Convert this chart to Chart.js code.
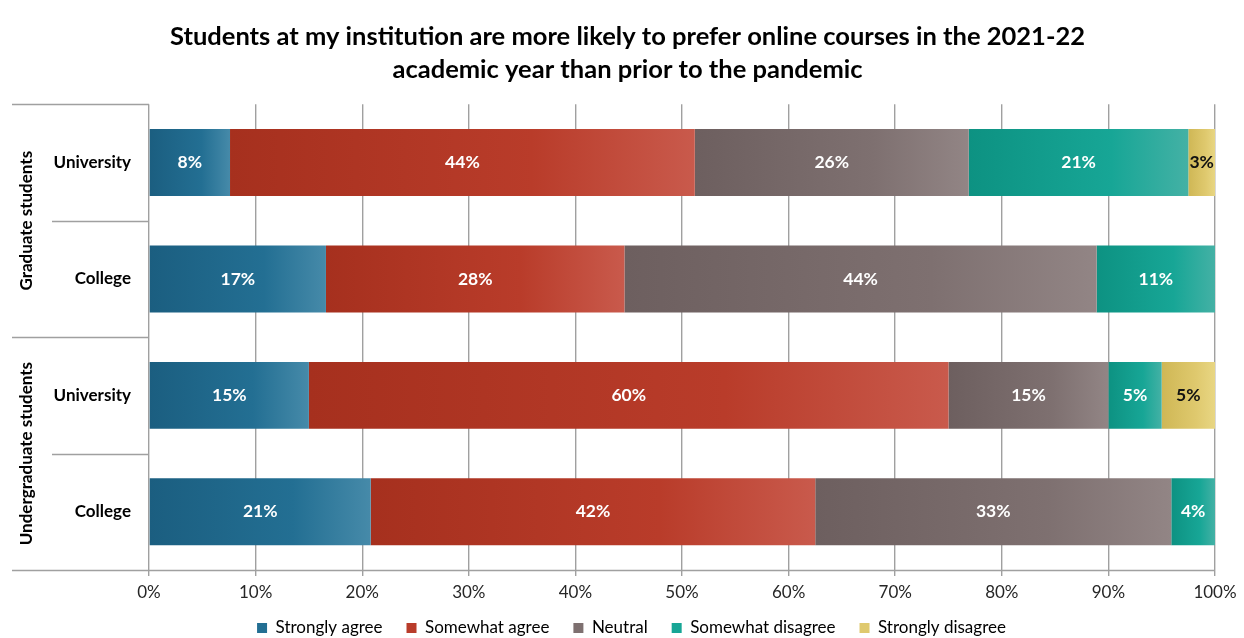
<!DOCTYPE html>
<html>
<head>
<meta charset="utf-8">
<script src="https://cdn.jsdelivr.net/npm/chart.js@4"></script>
<style>
  body { margin: 0; background: #fff; }
</style>
</head>
<body>
<canvas id="chart" width="1244" height="638"></canvas>
<script>
// rows, top to bottom
const rowLabels = ['University', 'College', 'University', 'College'];
const groupLabels = ['Graduate students', 'Undergraduate students'];
const seriesNames = ['Strongly agree', 'Somewhat agree', 'Neutral', 'Somewhat disagree', 'Strongly disagree'];

const stronglyAgree    = [7.6, 16.6, 15.0, 20.8];
const somewhatAgree    = [43.6, 28.0, 60.0, 41.7];
const neutral          = [25.7, 44.3, 15.0, 33.4];
const somewhatDisagree = [20.6, 11.1, 5.0, 4.1];
const stronglyDisagree = [2.5, 0, 5.0, 0];

const xTicks = [0, 10, 20, 30, 40, 50, 60, 70, 80, 90, 100];

// [dark, mid, light] for each series
const palette = [
  ['#1b5e80', '#236f93', '#468aa9'],
  ['#a6301e', '#b93c2a', '#c95a4c'],
  ['#6d5f5f', '#7e7070', '#928585'],
  ['#0d9282', '#17a696', '#44b1a5'],
  ['#cfb755', '#dfc96e', '#e8d683']
];

function segmentFill(ctx) {
  const cols = palette[ctx.datasetIndex];
  const chart = ctx.chart;
  if (ctx.type !== 'data' || !chart.chartArea || !chart.scales.x) return cols[1];
  let start = 0;
  for (let i = 0; i < ctx.datasetIndex; i++) {
    start += chart.data.datasets[i].data[ctx.dataIndex];
  }
  const end = start + chart.data.datasets[ctx.datasetIndex].data[ctx.dataIndex];
  const x0 = chart.scales.x.getPixelForValue(start);
  const x1 = chart.scales.x.getPixelForValue(end);
  if (!(x1 > x0)) return cols[1];
  const g = chart.ctx.createLinearGradient(x0, 0, x1, 0);
  g.addColorStop(0, cols[0]);
  g.addColorStop(0.65, cols[1]);
  g.addColorStop(1, cols[2]);
  return g;
}

const allSeries = [stronglyAgree, somewhatAgree, neutral, somewhatDisagree, stronglyDisagree];

const datasets = allSeries.map((vals, i) => ({
  label: seriesNames[i],
  data: vals,
  backgroundColor: segmentFill,
  borderWidth: 0,
  barPercentage: 0.575,
  categoryPercentage: 1
}));

const lineColor = '#a0a0a0';

// title and legend are centred on the whole picture, not on the plot;
// legend sits close under the axis labels
const shiftPlugin = {
  id: 'shift',
  afterLayout(chart) {
    if (chart.titleBlock) { chart.titleBlock.left += 20; chart.titleBlock.right += 20; }
    if (chart.legend) {
      const lg = chart.legend;
      lg.left += 24; lg.right += 24;
      const h = lg.height;
      lg.top = 595.5; lg.bottom = lg.top + h;
    }
  }
};

// y-axis group lines and rotated group labels
const groupPlugin = {
  id: 'groups',
  afterDraw(chart) {
    const c = chart.ctx;
    const area = chart.chartArea;
    const step = (area.bottom - area.top) / rowLabels.length;
    c.save();
    c.strokeStyle = lineColor;
    c.lineWidth = 1.4;
    for (let i = 0; i <= rowLabels.length; i++) {
      const y = Math.round(area.top + i * step) + 0.5;
      const x0 = (i % 2 === 0) ? 12 : 52;
      const x1 = (i === rowLabels.length) ? area.right : area.left;
      c.beginPath();
      c.moveTo(x0, y);
      c.lineTo(x1, y);
      c.stroke();
    }
    c.fillStyle = '#000';
    c.font = 'bold 17px Lato';
    c.textAlign = 'center';
    c.textBaseline = 'middle';
    groupLabels.forEach((t, i) => {
      const yc = area.top + step * (2 * i + 1);
      c.save();
      c.translate(27, yc);
      c.rotate(-Math.PI / 2);
      c.fillText(t, 0, 0);
      c.restore();
    });
    c.restore();
  }
};

// percentage labels inside the bars
const labelPlugin = {
  id: 'barLabels',
  afterDatasetsDraw(chart) {
    const c = chart.ctx;
    c.save();
    c.font = 'bold 17.5px Lato';
    c.textAlign = 'center';
    c.textBaseline = 'middle';
    chart.data.datasets.forEach((ds, di) => {
      const meta = chart.getDatasetMeta(di);
      meta.data.forEach((bar, i) => {
        const v = ds.data[i];
        if (!v) return;
        c.fillStyle = di === 4 ? '#111' : '#fff';
        c.fillText(Math.round(v) + '%', (bar.x + bar.base) / 2, bar.y);
      });
    });
    c.restore();
  }
};

new Chart(document.getElementById('chart'), {
  type: 'bar',
  data: { labels: rowLabels, datasets: datasets },
  options: {
    indexAxis: 'y',
    responsive: false,
    animation: false,
    layout: { padding: { left: 0, right: 29, top: 0, bottom: -28 } },
    scales: {
      x: {
        stacked: true,
        min: 0,
        max: 100,
        afterBuildTicks: (scale) => { scale.ticks = xTicks.map(v => ({ value: v })); },
        afterFit: (scale) => { scale.height = 45; },
        ticks: {
          callback: (v) => v + '%',
          color: '#262626',
          font: { size: 17, family: 'Lato' },
          padding: 6,
          maxRotation: 0
        },
        grid: { color: lineColor, lineWidth: 1.4, tickLength: 6, drawTicks: true },
        border: { display: false }
      },
      y: {
        stacked: true,
        afterFit: (scale) => { scale.width = 149; },
        ticks: {
          color: '#000',
          font: { size: 17, weight: 'bold', family: 'Lato' },
          padding: 18
        },
        grid: { display: false, drawTicks: false },
        border: { display: false }
      }
    },
    plugins: {
      title: {
        display: true,
        text: ['Students at my institution are more likely to prefer online courses in the 2021-22', 'academic year than prior to the pandemic'],
        color: '#000',
        font: { size: 25.5, weight: 'bold', family: 'Lato', lineHeight: 1.3 },
        padding: { top: 20, bottom: 18 }
      },
      legend: {
        position: 'bottom',
        labels: {
          boxWidth: 10,
          boxHeight: 10,
          color: '#111',
          font: { size: 17, family: 'Lato' },
          padding: 24,
          generateLabels: (chart) => seriesNames.map((n, i) => ({
            text: n,
            fillStyle: palette[i][1],
            strokeStyle: palette[i][1],
            lineWidth: 0,
            datasetIndex: i
          }))
        }
      },
      tooltip: { enabled: false }
    }
  },
  plugins: [shiftPlugin, groupPlugin, labelPlugin]
});
</script>
</body>
</html>
